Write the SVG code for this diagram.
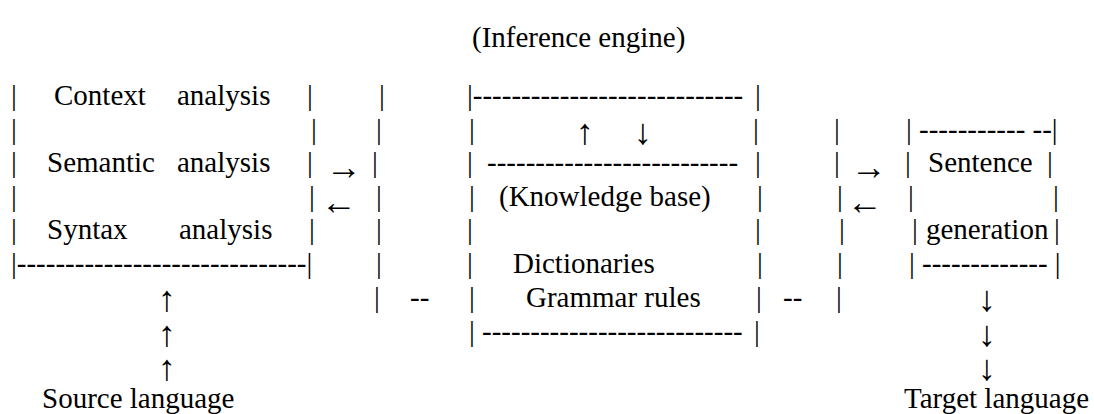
<svg xmlns="http://www.w3.org/2000/svg" width="1094" height="414" viewBox="0 0 1094 414">
<style>
text{font-family:"Liberation Serif","Times New Roman",serif;font-size:29px;fill:#000}
.a{text-anchor:middle;font-size:36px}
</style>
<rect width="1094" height="414" fill="#fff"/>
<g id="inference-engine">
<text x="472" y="47">(Inference engine)</text>
</g>
<g id="analysis-box">
<text x="11" y="105">|</text><text x="54" y="105">Context</text><text x="177" y="105">analysis</text><text x="307" y="105">|</text>
<text x="11" y="139">|</text><text x="311" y="139">|</text>
<text x="11" y="172">|</text><text x="47" y="172">Semantic</text><text x="177" y="172">analysis</text><text x="307" y="172">|</text>
<text x="11" y="206">|</text><text x="309" y="206">|</text>
<text x="11" y="239">|</text><text x="47" y="239">Syntax</text><text x="179" y="239">analysis</text><text x="309" y="239">|</text>
<text x="11" y="273">|------------------------------|</text>
</g>
<g id="knowledge-base">
<text x="467" y="105">|----------------------------</text><text x="755" y="105">|</text>
<text x="469" y="139">|</text><text x="753" y="139">|</text>
<text x="467" y="172">|</text><text x="487" y="172">--------------------------</text><text x="755" y="172">|</text>
<text x="469" y="206">|</text><text x="499" y="206">(Knowledge base)</text><text x="757" y="206">|</text>
<text x="467" y="239">|</text><text x="755" y="239">|</text>
<text x="467" y="273">|</text><text x="513" y="273">Dictionaries</text><text x="757" y="273">|</text>
<text x="469" y="307">|</text><text x="526" y="307">Grammar rules</text><text x="756" y="307">|</text>
<text x="469" y="341">|</text><text x="482" y="341">---------------------------</text><text x="754" y="341">|</text>
</g>
<g id="sentence-generation">
<text x="906" y="139">| ----------- --|</text>
<text x="905" y="172">|</text><text x="928" y="172">Sentence</text><text x="1047" y="172">|</text>
<text x="908" y="206">|</text><text x="1053" y="206">|</text>
<text x="912" y="239">|</text><text x="926" y="239">generation</text><text x="1054" y="239">|</text>
<text x="909" y="273">| ------------- |</text>
</g>
<g id="source-language">
<text x="42" y="408">Source language</text>
</g>
<g id="target-language">
<text x="904" y="408">Target language</text>
</g>
<g id="connectors">
<text x="379" y="105">|</text>
<text x="376" y="139">|</text>
<text class="a" x="344" y="179">→</text><text x="372" y="172">|</text>
<text class="a" x="339" y="214">←</text><text x="376" y="206">|</text>
<text x="376" y="239">|</text>
<text x="376" y="273">|</text>
<text x="374" y="307">|</text><text x="410" y="307">--</text>
<text class="a" x="585" y="144">↑</text><text class="a" x="643" y="144">↓</text>
<text x="834" y="139">|</text>
<text x="834" y="172">|</text><text class="a" x="869" y="179">→</text>
<text x="837" y="206">|</text><text class="a" x="865" y="214">←</text>
<text x="839" y="239">|</text>
<text x="837" y="273">|</text>
<text x="783" y="307">--</text><text x="836" y="307">|</text>
<text class="a" x="167" y="311">↑</text><text class="a" x="167" y="346">↑</text><text class="a" x="167" y="380">↑</text>
<text class="a" x="987" y="311">↓</text><text class="a" x="987" y="346">↓</text><text class="a" x="987" y="380">↓</text>
</g>
</svg>
